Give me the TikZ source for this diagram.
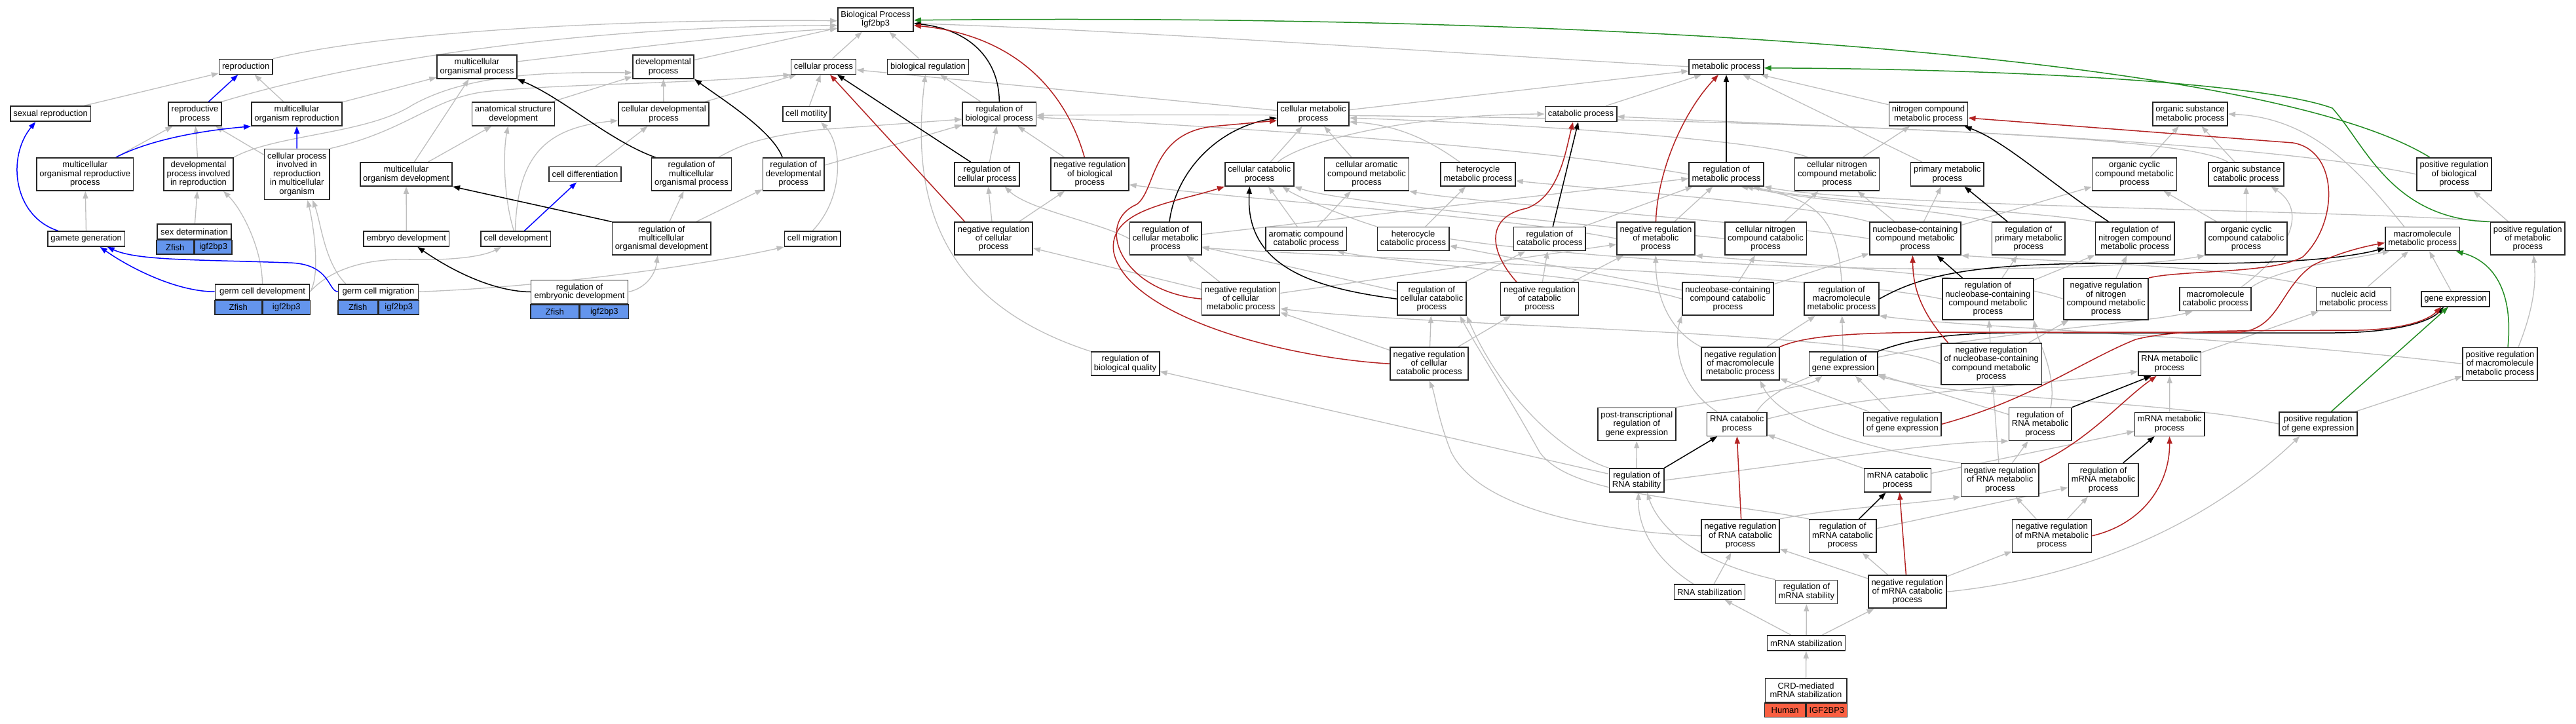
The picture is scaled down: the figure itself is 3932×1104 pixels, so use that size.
\documentclass[tikz,border=0pt]{standalone}
\usepackage{fontspec}
\setmainfont{Liberation Sans}
\usetikzlibrary{arrows.meta,backgrounds}
\definecolor{edgegray}{RGB}{190,190,190}
\definecolor{negred}{RGB}{178,34,34}
\definecolor{posgreen}{RGB}{34,139,34}
\definecolor{zfblue}{RGB}{100,149,237}
\definecolor{hsred}{RGB}{250,95,65}
\newcommand{\termfont}{\fontsize{13}{13.4}\selectfont}
\tikzset{
  term/.style={draw=black!85, line width=1.6pt, fill=white, align=center, font=\termfont,
    inner xsep=4.5pt, inner ysep=1pt, minimum height=23pt},
  two/.style={minimum height=36pt},
  three/.style={minimum height=50pt},
  four/.style={minimum height=63pt},
  five/.style={minimum height=77pt},
  zcell/.style={draw=black!85, line width=1.6pt, fill=zfblue, font=\termfont, inner sep=0pt, minimum height=21.5pt},
  hcell/.style={zcell, fill=hsred},
  isa/.style={draw=edgegray, line width=1.3pt, -{Triangle[length=11pt,width=8pt]}},
  regl/.style={draw=black, line width=1.5pt, -{Triangle[length=11pt,width=8pt]}},
  negl/.style={draw=negred, line width=1.5pt, -{Triangle[length=11pt,width=8pt]}},
  posl/.style={draw=posgreen, line width=1.5pt, -{Triangle[length=11pt,width=8pt]}},
  partl/.style={draw=blue, line width=1.5pt, -{Triangle[length=11pt,width=8pt]}}
}
\begin{document}
\begin{tikzpicture}[x=1pt,y=-1pt]
\useasboundingbox (0,0) rectangle (3932,1104);
% rows of terms
\node[term,two] (bp) at (1336.5,29.8) {Biological Process\\Igf2bp3};
\node[term] (repro) at (375.3,101.8) {reproduction};
\node[term,two] (mop) at (728,102) {multicellular\\organismal process};
\node[term,two] (devp) at (1012.5,102) {developmental\\process};
\node[term] (cellp) at (1257,101.8) {cellular process};
\node[term] (bioreg) at (1416.5,101.8) {biological regulation};
\node[term] (metab) at (2635,101.8) {metabolic process};
\node[term] (sexrep) at (77.2,173.7) {sexual reproduction};
\node[term,two] (reprop) at (297.5,174) {reproductive\\process};
\node[term,two] (morep) at (453,174) {multicellular\\organism reproduction};
\node[term,two] (asd) at (783.5,174) {anatomical structure\\development};
\node[term,two] (celldevp) at (1013,174) {cellular developmental\\process};
\node[term] (cellmot) at (1231,174) {cell motility};
\node[term,two] (regbp) at (1525.3,174) {regulation of\\biological process};
\node[term,two] (cmp) at (2004.5,174) {cellular metabolic\\process};
\node[term] (catp) at (2413,174) {catabolic process};
\node[term,two] (ncmp) at (2943.5,174) {nitrogen compound\\metabolic process};
\node[term,two] (osmp) at (3343,174) {organic substance\\metabolic process};
\node[term,three] (morp) at (129.8,266) {multicellular\\organismal reproductive\\process};
\node[term,three] (dpir) at (303,266) {developmental\\process involved\\in reproduction};
\node[term,five] (cpir) at (453.2,266) {cellular process\\involved in\\reproduction\\in multicellular\\organism};
\node[term,two] (modev) at (620,266) {multicellular\\organism development};
\node[term] (celldiff) at (893,266) {cell differentiation};
\node[term,three] (regmop) at (1055.5,266) {regulation of\\multicellular\\organismal process};
\node[term,three] (regdevp) at (1211.2,266) {regulation of\\developmental\\process};
\node[term,two] (regcp) at (1506.5,266) {regulation of\\cellular process};
\node[term,three] (nregbp) at (1663.4,266) {negative regulation\\of biological\\process};
\node[term,two] (ccatp) at (1922.4,266) {cellular catabolic\\process};
\node[term,three] (cacmp) at (2086,266) {cellular aromatic\\compound metabolic\\process};
\node[term,two] (hetmp) at (2256,266) {heterocycle\\metabolic process};
\node[term,two] (regmp) at (2635,266) {regulation of\\metabolic process};
\node[term,three] (cncmp) at (2804,266) {cellular nitrogen\\compound metabolic\\process};
\node[term,two] (pmp) at (2972.4,266) {primary metabolic\\process};
\node[term,three] (occmp) at (3258,266) {organic cyclic\\compound metabolic\\process};
\node[term,two] (oscp) at (3428.5,266) {organic substance\\catabolic process};
\node[term,three] (pregbp) at (3746,266) {positive regulation\\of biological\\process};
\node[term] (gamgen) at (131.7,364.6) {gamete generation};
\node[term,minimum width=113.5pt] (sexdet) at (296.5,353.5) {sex determination};
\node[zcell,minimum width=56.75pt,anchor=north east] (sexdetA) at (sexdet.south) {Zfish};
\node[zcell,minimum width=56.75pt,anchor=north west] (sexdetB) at (sexdet.south) {igf2bp3};
\node[term] (embdev) at (620.3,364.6) {embryo development};
\node[term] (celldev) at (787.4,364.6) {cell development};
\node[term,three] (regmodev) at (1009.8,364.2) {regulation of\\multicellular\\organismal development};
\node[term] (cellmig) at (1240.2,364.6) {cell migration};
\node[term,three] (nregcp) at (1516.7,364.2) {negative regulation\\of cellular\\process};
\node[term,three] (regcmp) at (1779,364.2) {regulation of\\cellular metabolic\\process};
\node[term,two] (accp) at (1993.7,364.6) {aromatic compound\\catabolic process};
\node[term,two] (hetcp) at (2157,364.6) {heterocycle\\catabolic process};
\node[term,two] (regcatp) at (2365.3,364.6) {regulation of\\catabolic process};
\node[term,three] (nregmp) at (2527.4,364.2) {negative regulation\\of metabolic\\process};
\node[term,three] (cnccp) at (2695,364.2) {cellular nitrogen\\compound catabolic\\process};
\node[term,three] (nbcmp) at (2923.4,364.2) {nucleobase-containing\\compound metabolic\\process};
\node[term,three] (regpmp) at (3096.4,364.2) {regulation of\\primary metabolic\\process};
\node[term,three] (regncmp) at (3258.7,364.2) {regulation of\\nitrogen compound\\metabolic process};
\node[term,three] (occcp) at (3428.5,364.2) {organic cyclic\\compound catabolic\\process};
\node[term,two] (mmp) at (3697.7,364.6) {macromolecule\\metabolic process};
\node[term,three] (pregmp) at (3858.3,364.2) {positive regulation\\of metabolic\\process};
\node[term,minimum width=144pt] (gcdev) at (400.5,445.2) {germ cell development};
\node[zcell,minimum width=72pt,anchor=north east] (gcdevA) at (gcdev.south) {Zfish};
\node[zcell,minimum width=72pt,anchor=north west] (gcdevB) at (gcdev.south) {igf2bp3};
\node[term,minimum width=122pt] (gcmig) at (577.5,445.2) {germ cell migration};
\node[zcell,minimum width=61pt,anchor=north east] (gcmigA) at (gcmig.south) {Zfish};
\node[zcell,minimum width=61pt,anchor=north west] (gcmigB) at (gcmig.south) {igf2bp3};
\node[term,two,minimum width=148pt] (regembdev) at (884.6,445.5) {regulation of\\embryonic development};
\node[zcell,minimum width=74pt,anchor=north east] (regembdevA) at (regembdev.south) {Zfish};
\node[zcell,minimum width=74pt,anchor=north west] (regembdevB) at (regembdev.south) {igf2bp3};
\node[term,three] (nregcmp) at (1894,456.2) {negative regulation\\of cellular\\metabolic process};
\node[term,three] (regccp) at (2185.3,456.2) {regulation of\\cellular catabolic\\process};
\node[term,three] (nregcatp) at (2350,456.2) {negative regulation\\of catabolic\\process};
\node[term,three] (nbccp) at (2637.3,456.2) {nucleobase-containing\\compound catabolic\\process};
\node[term,three] (regmmp) at (2811,456.2) {regulation of\\macromolecule\\metabolic process};
\node[term,four] (regnbcmp) at (3034.3,456.4) {regulation of\\nucleobase-containing\\compound metabolic\\process};
\node[term,four] (nregncmp) at (3214.6,456.4) {negative regulation\\of nitrogen\\compound metabolic\\process};
\node[term,two] (mcp) at (3381.5,456.6) {macromolecule\\catabolic process};
\node[term,two] (namp) at (3592.4,456.6) {nucleic acid\\metabolic process};
\node[term] (gexp) at (3748,456.2) {gene expression};
\node[term,two] (regbq) at (1717.5,555) {regulation of\\biological quality};
\node[term,three] (nregccp) at (2181.5,555.2) {negative regulation\\of cellular\\catabolic process};
\node[term,three] (nregmmp) at (2656.6,555.2) {negative regulation\\of macromolecule\\metabolic process};
\node[term,two] (reggexp) at (2813.6,555) {regulation of\\gene expression};
\node[term,four] (nregnbcmp) at (3039.5,555.3) {negative regulation\\of nucleobase-containing\\compound metabolic\\process};
\node[term,two] (rnamp) at (3311.7,555) {RNA metabolic\\process};
\node[term,three] (pregmmp) at (3816,555.3) {positive regulation\\of macromolecule\\metabolic process};
\node[term,three] (ptreg) at (2498.3,647.4) {post-transcriptional\\regulation of\\gene expression};
\node[term,two] (rnacp) at (2651.3,647.3) {RNA catabolic\\process};
\node[term,two] (nreggexp) at (2903.8,647.3) {negative regulation\\of gene expression};
\node[term,three] (regrnamp) at (3114.2,647.4) {regulation of\\RNA metabolic\\process};
\node[term,two] (mrnamp) at (3311.6,647.3) {mRNA metabolic\\process};
\node[term,two] (preggexp) at (3538.3,647) {positive regulation\\of gene expression};
\node[term,two] (regrnast) at (2498,733) {regulation of\\RNA stability};
\node[term,two] (mrnacp) at (2896.5,733) {mRNA catabolic\\process};
\node[term,three] (nregrnamp) at (3052.8,732.4) {negative regulation\\of RNA metabolic\\process};
\node[term,three] (regmrnamp) at (3210.6,732.4) {regulation of\\mRNA metabolic\\process};
\node[term,three] (nregrnacp) at (2656.6,817.8) {negative regulation\\of RNA catabolic\\process};
\node[term,three] (regmrnacp) at (2812.6,817.8) {regulation of\\mRNA catabolic\\process};
\node[term,three] (nregmrnamp) at (3132,817.8) {negative regulation\\of mRNA metabolic\\process};
\node[term] (rnastab) at (2609.5,903.4) {RNA stabilization};
\node[term,two] (regmrnast) at (2757.5,903.3) {regulation of\\mRNA stability};
\node[term,three] (nregmrnacp) at (2911.4,903.2) {negative regulation\\of mRNA catabolic\\process};
\node[term] (mrnastab) at (2757,981.5) {mRNA stabilization};
\node[term,two,minimum width=124.4pt] (crd) at (2756.5,1053.4) {CRD-mediated\\mRNA stabilization};
\node[hcell,minimum width=62.2pt,anchor=north east] (crdA) at (crd.south) {Human};
\node[hcell,minimum width=62.2pt,anchor=north west] (crdB) at (crd.south) {IGF2BP3};

\begin{scope}[on background layer]
% is_a, straight
\foreach \a/\b in {sexrep/repro, morep/repro, morep/mop, modev/mop, asd/devp, celldevp/devp,
  celldevp/cellp, cellmot/cellp, regbp/bioreg, cmp/metab, catp/metab, ncmp/metab, pmp/metab,
  devp/bp, cellp/bp, bioreg/bp, nregbp/regbp, regcp/regbp, regdevp/regbp, cmp/cellp,
  nregcp/regcp, nregcp/nregbp, nregcmp/regcmp, nregcmp/nregcp, nregcmp/nregmp, regcmp/regmp,
  ccatp/cmp, cacmp/cmp, cncmp/ncmp, accp/cacmp, accp/ccatp, hetcp/hetmp, regcatp/regmp,
  nregmp/regmp, cnccp/cncmp, nbcmp/cncmp, nbcmp/occmp, nbcmp/pmp, occmp/osmp, oscp/osmp,
  pregmp/pregbp, occcp/occmp, occcp/oscp, namp/mmp, gexp/mmp, nbccp/nbcmp, nbccp/cnccp,
  nbccp/hetcp, regccp/regcatp, regccp/regcmp, regnbcmp/regpmp, regnbcmp/regncmp,
  nregncmp/regncmp, nregmmp/regmmp, reggexp/regmmp, nregnbcmp/regnbcmp, nregnbcmp/nregncmp,
  mrnamp/rnamp, rnamp/namp, preggexp/pregmmp, nreggexp/reggexp, nreggexp/nregmmp,
  regrnamp/reggexp, nregrnamp/regrnamp, nregrnamp/nregnbcmp, mrnacp/rnacp, mrnacp/mrnamp,
  nregmrnamp/regmrnamp, nregmrnamp/nregrnamp, regrnast/ptreg, regrnast/regbq,
  regmrnacp/regmrnamp, rnastab/nregrnacp, nregmrnacp/regmrnacp, nregmrnacp/nregrnacp,
  nregmrnacp/nregmrnamp, mrnastab/rnastab, mrnastab/regmrnast, mrnastab/nregmrnacp,
  crd/mrnastab, nregccp/regccp, nregccp/nregcatp, nregccp/nregcmp, nregcatp/regcatp,
  nregcatp/nregmp, regmodev/regmop, regmodev/regdevp, embdev/modev, modev/asd,
  celldiff/celldevp, morp/reprop, dpir/reprop, cpir/reprop, gamgen/morp, sexdet/dpir}
  \draw[isa] (\a) -- (\b);
% is_a, curved
\draw[isa] (repro.north east) .. controls (600,45) and (1000,28) .. ([yshift=-2pt]bp.west);
\draw[isa] (reprop.north east) .. controls (520,100) and (850,40) .. ([yshift=-9pt]bp.west);
\draw[isa] ([yshift=8pt]mop.east) .. controls (950,75) and (1150,50) .. ([yshift=-14pt]bp.west);
\draw[isa] (metab.west) .. controls (2200,80) and (1700,45) .. ([yshift=-6pt]bp.east);
\draw[isa] (dpir.north east) .. controls (420,205) and (560,205) .. (630,160) .. controls (720,110) and (850,110) .. ([yshift=-9pt]devp.west);
\draw[isa] (cpir.north east) .. controls (620,200) and (660,150) .. (740,140) .. controls (850,128) and (1050,128) .. (cellp.south west);
\draw[isa] ([xshift=41pt]regmop.north) .. controls (1125,225) and (1150,210) .. (1250,198) -- ([yshift=-8pt]regbp.west);
\draw[isa] (regmp.west) .. controls (2350,225) and (1900,195) .. ([yshift=-5pt]regbp.east);
\draw[isa] (pregbp.west) .. controls (3400,205) and (2500,170) .. ([yshift=-2pt]regbp.east);
\draw[isa] (nregmp.west) .. controls (2300,330) and (1950,310) .. ([yshift=-16pt]nregbp.east);
\draw[isa] (regcmp.west) .. controls (1680,340) and (1570,320) .. ([xshift=27pt]regcp.south);
\draw[isa] ([xshift=28pt]ccatp.north) .. controls (1990,215) and (2150,175) .. (catp.west);
\draw[isa] ([xshift=-28pt]hetmp.north) .. controls (2170,205) and (2120,190) .. ([yshift=-12pt]cmp.east);
\draw[isa] ([xshift=-44pt]cncmp.north) .. controls (2700,215) and (2350,190) .. ([yshift=-6pt]cmp.east);
\draw[isa] (hetcp.north west) .. controls (2050,330) and (1980,300) .. ([xshift=35pt]ccatp.south);
\draw[isa] (cnccp.west) .. controls (2400,340) and (2050,310) .. (ccatp.south east);
\draw[isa] (nbcmp.north west) .. controls (2750,310) and (2450,290) .. ([yshift=-10pt]hetmp.east);
\draw[isa] (nbcmp.west) .. controls (2700,340) and (2250,310) .. (cacmp.south east);
\draw[isa] (regpmp.north west) .. controls (2960,320) and (2750,305) .. ([xshift=30pt]regmp.south);
\draw[isa] (regncmp.north west) .. controls (3100,320) and (2780,310) .. ([xshift=40pt]regmp.south);
\draw[isa] (regmmp.north) .. controls (2805,320) and (2760,300) .. ([xshift=22pt]regmp.south);
\draw[isa] (pregmp.north west) .. controls (3650,322) and (2850,316) .. (regmp.south east);
\draw[isa] ([xshift=-28pt]oscp.north) .. controls (3340,210) and (2950,200) .. ([yshift=-4pt]catp.east);
\draw[isa] ([xshift=-28pt]mmp.north) .. controls (3600,260) and (3530,180) .. (osmp.east);
\draw[isa] (mcp.north east) .. controls (3480,410) and (3560,400) .. ([xshift=-50pt]mmp.south);
\draw[isa] ([xshift=40pt]mcp.north) .. controls (3500,380) and (3520,320) .. ([xshift=38pt]oscp.south);
\draw[isa] (namp.north west) .. controls (3400,405) and (3150,400) .. (nbcmp.south east);
\draw[isa] (nbccp.west) .. controls (2450,420) and (2150,405) .. ([xshift=47pt]accp.south);
\draw[isa] (hetcp.east) .. controls (2600,420) and (3200,420) .. (occcp.south west);
\draw[isa] (regnbcmp.west) .. controls (2800,420) and (2100,395) .. ([yshift=-14pt]regcmp.east);
\draw[isa] (nregncmp.west) .. controls (3050,420) and (2700,400) .. (nregmp.south east);
\draw[isa] (nregmmp.north west) .. controls (2540,500) and (2527,440) .. (nregmp.south);
\draw[isa] (nregnbcmp.west) .. controls (2850,505) and (2200,500) .. ([yshift=-15pt]nregcmp.east);
\draw[isa] (pregmmp.west) .. controls (3400,512) and (3000,500) .. (regmmp.south east);
\draw[isa] ([xshift=28pt]pregmmp.north) .. controls (3872,460) and (3870,420) .. ([xshift=9pt]pregmp.south);
\draw[isa] (preggexp.west) .. controls (3300,610) and (3000,610) .. (reggexp.south east);
\draw[isa] (ptreg.north east) .. controls (2660,605) and (2760,590) .. ([xshift=-32pt]reggexp.south);
\draw[isa] ([yshift=8pt]rnacp.east) .. controls (2850,600) and (3100,590) .. ([yshift=-12pt]rnamp.west);
\draw[isa] ([xshift=-30pt]rnacp.north) .. controls (2560,590) and (2555,520) .. (nbccp.south west);
\draw[isa] ([xshift=30pt]rnacp.north) .. controls (2750,520) and (3250,500) .. ([xshift=-35pt]mcp.south);
\draw[isa] ([xshift=16pt]regrnamp.north) .. controls (3140,570) and (3110,520) .. (regnbcmp.south east);
\draw[isa] (nregrnamp.north west) .. controls (2870,690) and (2720,650) .. ([xshift=30pt]nregmmp.south);
\draw[isa] (regrnast.east) .. controls (2800,700) and (2950,675) .. (regrnamp.south west);
\draw[isa] (regrnast.north west) .. controls (2380,690) and (2290,600) .. (regccp.south east);
\draw[isa] (regmrnacp.north west) .. controls (2600,760) and (2400,760) .. (2350,690) .. controls (2300,600) and (2260,540) .. ([xshift=43pt]regccp.south);
\draw[isa] (nregrnacp.west) .. controls (2450,812) and (2260,780) .. (2215,690) .. controls (2195,640) and (2190,600) .. (nregccp.south);
\draw[isa] (nregrnacp.north east) .. controls (2800,775) and (2920,770) .. (nregrnamp.south west);
\draw[isa] ([xshift=-25pt]rnastab.north) .. controls (2520,850) and (2500,800) .. ([xshift=3pt]regrnast.south);
\draw[isa] (regmrnast.north west) .. controls (2580,855) and (2530,800) .. ([xshift=16pt]regrnast.south);
\draw[isa] (nregmrnacp.east) .. controls (3200,880) and (3380,790) .. ([xshift=-28pt]preggexp.south);
\draw[isa] (regbq.north west) .. controls (1430,460) and (1390,300) .. ([xshift=-4pt]bioreg.south);
\draw[isa] (gcdev.east) .. controls (505,410) and (560,395) .. (620,396) .. controls (700,398) and (740,390) .. ([xshift=-22pt]celldev.south);
\draw[isa] (gcdev.north) .. controls (400,380) and (370,320) .. ([xshift=38pt]dpir.south);
\draw[isa] (gcdev.east) .. controls (490,420) and (478,340) .. ([xshift=16pt]cpir.south);
\draw[isa] ([xshift=-50pt]gcmig.north) .. controls (495,400) and (490,340) .. ([xshift=24pt]cpir.south);
\draw[isa] (gcmig.east) .. controls (800,440) and (1050,410) .. (cellmig.south west);
\draw[isa] (regembdev.east) .. controls (985,440) and (1000,420) .. ([xshift=-6pt]regmodev.south);
\draw[isa] ([xshift=-3pt]celldev.north) .. controls (768,300) and (768,230) .. ([xshift=-8pt]asd.south);
\draw[isa] ([xshift=-1pt]celldev.north) .. controls (790,240) and (830,195) .. ([yshift=-10pt]celldevp.west);
\draw[isa] (cellmig.north) .. controls (1290,300) and (1285,220) .. ([xshift=22pt]cellmot.south);
% part_of
\draw[partl] ([xshift=21pt]reprop.north) -- ([xshift=-12pt]repro.south);
\draw[partl] ([xshift=47pt]morp.north) .. controls (225,215) and (300,200) .. (morep.south west);
\draw[partl] (cpir) -- (morep);
\draw[partl] ([xshift=13pt]celldev.north) -- ([xshift=-13pt]celldiff.south);
\draw[partl] ([xshift=-43pt]gamgen.north) .. controls (20,330) and (10,240) .. ([xshift=-23pt]sexrep.south);
\draw[partl] (gcdev.west) .. controls (270,445) and (200,410) .. ([xshift=21pt]gamgen.south);
\draw[partl] (gcmig.west) .. controls (500,444) and (505,402) .. (440,401) .. controls (300,396) and (210,398) .. ([xshift=32pt]gamgen.south);
% regulates
\draw[regl] (regbp.north) .. controls (1525,90) and (1480,45) .. ([yshift=-6pt]bp.east);
\draw[regl] ([xshift=-55pt]regmop.north) .. controls (930,215) and (860,150) .. (mop.south east);
\draw[regl] ([xshift=-17pt]regdevp.north) .. controls (1180,200) and (1100,150) .. (devp.south east);
\draw[regl] ([xshift=-25pt]regcp.north) -- ([xshift=21pt]cellp.south);
\draw[regl] (regembdev.west) .. controls (760,445) and (700,420) .. ([xshift=17pt]embdev.south);
\draw[regl] (regmodev.north west) -- (modev.south east);
\draw[regl] ([xshift=6pt]regcmp.north) .. controls (1795,260) and (1860,195) .. ([yshift=-6pt]cmp.west);
\draw[regl] (regccp.west) .. controls (2010,440) and (1900,410) .. ([xshift=-15pt]ccatp.south);
\draw[regl] ([xshift=5pt]regcatp.north) -- ([xshift=-4pt]catp.south);
\draw[regl] (regmp) -- (metab);
\draw[regl] ([xshift=-40pt]regncmp.north) .. controls (3130,280) and (3060,215) .. ([xshift=55pt]ncmp.south);
\draw[regl] ([xshift=-32pt]regpmp.north) -- ([xshift=26pt]pmp.south);
\draw[regl] ([xshift=-39pt]regnbcmp.north) -- ([xshift=33pt]nbcmp.south);
\draw[regl] (regmmp.east) .. controls (2950,410) and (3050,400) .. (3300,402) .. controls (3500,404) and (3590,392) .. ([yshift=-14pt]mmp.west);
\draw[regl] (reggexp.north east) .. controls (2930,512) and (3000,506) .. (3150,508) -- (3560,508) .. controls (3660,508) and (3710,490) .. ([xshift=-18pt]gexp.south);
\draw[regl] (regrnamp.north east) -- ([xshift=-28pt]rnamp.south);
\draw[regl] ([xshift=30pt]regmrnamp.north) -- ([xshift=-23pt]mrnamp.south);
\draw[regl] (regrnast.north east) -- ([xshift=-30pt]rnacp.south);
\draw[regl] ([xshift=25pt]regmrnacp.north) -- ([xshift=-18pt]mrnacp.south);
% negatively regulates
\draw[negl] ([xshift=-8pt]nregbp.north) .. controls (1630,150) and (1560,55) .. ([yshift=-9pt]bp.east);
\draw[negl] ([xshift=-44pt]nregcp.north) -- ([xshift=10pt]cellp.south);
\draw[negl] (nregcmp.west) .. controls (1710,445) and (1670,340) .. (1735,312) .. controls (1765,290) and (1755,205) .. (1850,193) -- ([yshift=-10pt]cmp.west);
\draw[negl] (nregccp.west) .. controls (1950,545) and (1720,480) .. (1700,385) .. controls (1690,320) and (1790,310) .. (ccatp.south west);
\draw[negl] ([xshift=-35pt]nregcatp.north) .. controls (2270,380) and (2270,330) .. (2330,318) .. controls (2380,300) and (2390,230) .. ([xshift=-12pt]catp.south);
\draw[negl] (nregmp.north) .. controls (2530,260) and (2570,170) .. ([xshift=-12pt]metab.south);
\draw[negl] (nregncmp.north east) .. controls (3330,412) and (3470,418) .. (3515,392) .. controls (3570,340) and (3570,230) .. (3500,218) -- ([yshift=-6pt]ncmp.east);
\draw[negl] ([xshift=-66pt]nregnbcmp.north) .. controls (2926,470) and (2920,430) .. ([xshift=-4pt]nbcmp.south);
\draw[negl] (nregmmp.north east) .. controls (2760,510) and (2850,507) .. (3000,507) -- (3420,507) .. controls (3480,500) and (3480,440) .. (3530,405) .. controls (3570,385) and (3610,376) .. ([yshift=-6pt]mmp.west);
\draw[negl] (nreggexp.east) .. controls (3100,610) and (3180,550) .. (3260,518) .. controls (3320,503) and (3400,505) .. (3600,504) .. controls (3680,502) and (3710,485) .. ([xshift=-22pt]gexp.south);
\draw[negl] (nregrnamp.north east) .. controls (3190,670) and (3240,610) .. ([xshift=-20pt]rnamp.south);
\draw[negl] (nregmrnamp.east) .. controls (3270,800) and (3312,740) .. (mrnamp.south);
\draw[negl] ([xshift=1pt]nregrnacp.north) -- (rnacp.south);
\draw[negl] ([xshift=-2pt]nregmrnacp.north) -- ([xshift=3pt]mrnacp.south);
% positively regulates
\draw[posl] ([xshift=-37pt]pregbp.north) .. controls (3450,80) and (2400,20) .. ([yshift=-1pt]bp.east);
\draw[posl] (pregmp.north west) .. controls (3650,335) and (3610,220) .. (3560,165) .. controls (3450,125) and (3050,105) .. ([yshift=-2pt]metab.east);
\draw[posl] ([xshift=12pt]pregmmp.north) .. controls (3836,450) and (3810,400) .. ([xshift=51pt]mmp.south);
\draw[posl] ([xshift=20pt]preggexp.north) -- ([xshift=-11pt]gexp.south);
\end{scope}
\end{tikzpicture}
\end{document}
